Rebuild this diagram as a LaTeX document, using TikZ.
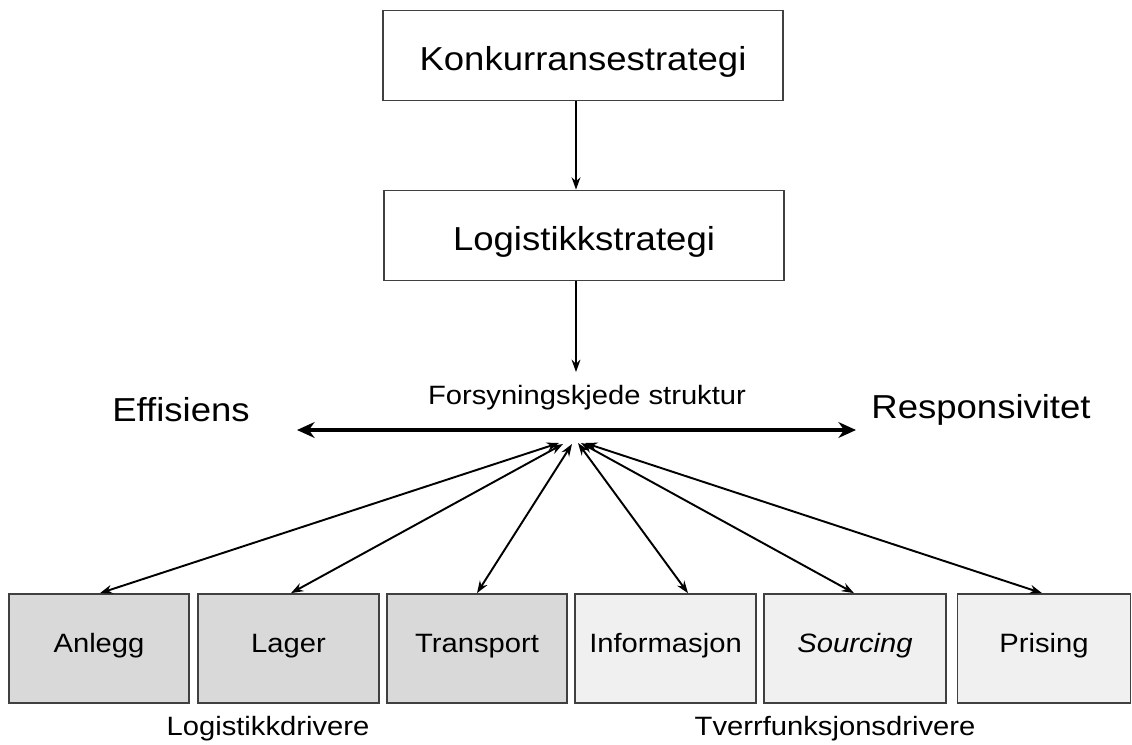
\documentclass[tikz,border=0pt]{standalone}
\usepackage{fontspec}
\setmainfont{Liberation Sans}[FakeStretch=1.1]
\usetikzlibrary{arrows.meta}
\begin{document}
\begin{tikzpicture}[x=0.02cm,y=-0.02cm,
  bigfont/.style={font=\fontsize{18.9}{22}\selectfont},
  smallfont/.style={font=\fontsize{15.1}{18}\selectfont},
  topbox/.style={draw=black!75,line width=1pt,fill=white,minimum width=400*0.02cm,
    minimum height=90*0.02cm,inner sep=0pt,bigfont,text height=17.5pt,text depth=0pt},
  drvbox/.style={draw=black!75,line width=1pt,minimum height=109*0.02cm,inner sep=0pt,
    smallfont,text height=10.8pt,text depth=5.7pt},
  logbox/.style={drvbox,fill=black!15},
  crossbox/.style={drvbox,fill=black!6},
  biglabel/.style={bigfont,inner sep=0pt,anchor=base},
  smalllabel/.style={smallfont,inner sep=0pt,anchor=base},
  flow/.style={-{Stealth[length=7pt,width=5pt]},line width=1.1pt},
  link/.style={{Stealth[length=7pt,width=5pt]}-{Stealth[length=7pt,width=5pt]},line width=1.1pt},
  axis/.style={{Stealth[length=10pt,width=9pt]}-{Stealth[length=10pt,width=9pt]},line width=2.8pt}]
\useasboundingbox (0,0) rectangle (1132,744);

% strategy chain
\node[topbox] (konk) at (583,55.5) {Konkurransestrategi};
\node[topbox] (logs) at (584,235.5) {Logistikkstrategi};
\coordinate (hub) at (576,372);
\draw[flow] (konk.south -| 576,0) -- (logs.north -| 576,0);
\draw[flow] (logs.south -| 576,0) -- (hub);

% supply chain structure axis
\node[smalllabel] (fks) at (587,404) {Forsyningskjede struktur};
\coordinate (axL) at (297,430);
\coordinate (axR) at (856,430);
\draw[axis] (axL) -- (axR);
\node[biglabel] (eff) at (181,421) {Effisiens};
\node[biglabel] (resp) at (981,418) {Responsivitet};

% drivers
\node[logbox,minimum width=180*0.02cm] (anl) at (99,648.5) {Anlegg};
\node[logbox,minimum width=181*0.02cm] (lag) at (288.5,648.5) {Lager};
\node[logbox,minimum width=180*0.02cm] (tra) at (477,648.5) {Transport};
\node[crossbox,minimum width=181*0.02cm] (inf) at (665.5,648.5) {Informasjon};
\node[crossbox,minimum width=182*0.02cm] (sou) at (855,648.5) {\itshape Sourcing};
\node[crossbox,minimum width=173*0.02cm] (pri) at (1044,648.5) {Prising};

\node[smalllabel] (logdrv) at (268,735) {Logistikkdrivere};
\node[smalllabel] (tvdrv) at (835,735) {Tverrfunksjonsdrivere};

% links between the drivers and the structure
\coordinate (hA) at (559,443);
\coordinate (hL) at (563,444);
\coordinate (hT) at (572,444);
\coordinate (hI) at (578,443);
\coordinate (hS) at (581,443);
\coordinate (hP) at (585,443);
\draw[link] (hA) -- (anl.north -| 100,0);
\draw[link] (hL) -- (lag.north -| 291,0);
\draw[link] (hT) -- (tra.north -| 477,0);
\draw[link] (hI) -- (inf.north -| 688,0);
\draw[link] (hS) -- (sou.north -| 854,0);
\draw[link] (hP) -- (pri.north -| 1042,0);
\end{tikzpicture}
\end{document}
